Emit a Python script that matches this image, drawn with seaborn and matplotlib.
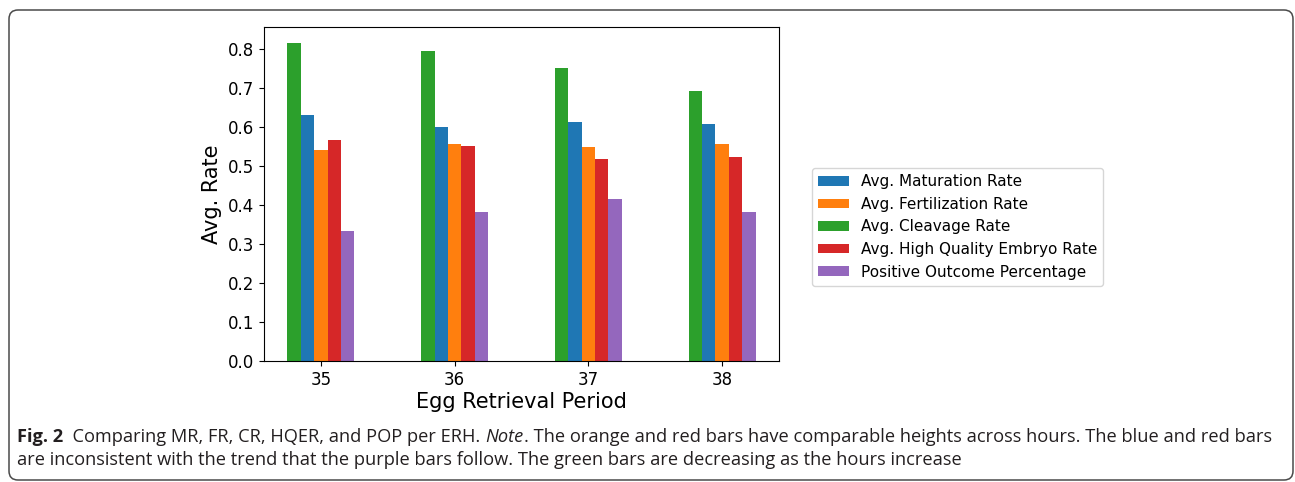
import matplotlib
matplotlib.use("Agg")
import matplotlib.pyplot as plt
from matplotlib.patches import FancyBboxPatch
from matplotlib.transforms import IdentityTransform
import seaborn as sns
import pandas as pd

periods = ["35", "36", "37", "38"]
maturation = [0.630, 0.599, 0.612, 0.607]
fertilization = [0.540, 0.556, 0.548, 0.556]
cleavage = [0.815, 0.795, 0.751, 0.692]
hqer = [0.566, 0.550, 0.517, 0.522]
pop = [0.334, 0.383, 0.414, 0.383]

legend_order = ["Avg. Maturation Rate", "Avg. Fertilization Rate", "Avg. Cleavage Rate",
                "Avg. High Quality Embryo Rate", "Positive Outcome Percentage"]
bar_order = ["Avg. Cleavage Rate", "Avg. Maturation Rate", "Avg. Fertilization Rate",
             "Avg. High Quality Embryo Rate", "Positive Outcome Percentage"]
colors = {"Avg. Maturation Rate": "#1f77b4", "Avg. Fertilization Rate": "#ff7f0e",
          "Avg. Cleavage Rate": "#2ca02c", "Avg. High Quality Embryo Rate": "#d62728",
          "Positive Outcome Percentage": "#9467bd"}

series = dict(zip(legend_order, [maturation, fertilization, cleavage, hqer, pop]))
rows = []
for name, vals in series.items():
    for p, v in zip(periods, vals):
        rows.append({"Period": p, "Rate": v, "Metric": name})
df = pd.DataFrame(rows)

W, H = 1295, 482
fig = plt.figure(figsize=(W / 100, H / 100), dpi=100)
ax = fig.add_axes([264 / W, 1 - 361 / H, (779 - 264) / W, (361 - 27) / H])

sns.barplot(data=df, x="Period", y="Rate", hue="Metric", order=periods,
            hue_order=bar_order, palette=colors, width=0.5, errorbar=None,
            linewidth=0, saturation=1, ax=ax)

ax.set_xlim(-0.425, 3.425)
ax.set_ylim(0, 0.8558)
ax.set_yticks([0.0, 0.1, 0.2, 0.3, 0.4, 0.5, 0.6, 0.7, 0.8])
ax.tick_params(labelsize=12)
ax.set_xlabel("Egg Retrieval Period", fontsize=15, labelpad=2)
ax.set_ylabel("Avg. Rate", fontsize=15)

handles, labels = ax.get_legend_handles_labels()
hmap = dict(zip(labels, handles))
ax.get_legend().remove()
fig.legend([hmap[l] for l in legend_order], legend_order, loc="upper left",
           bbox_to_anchor=(812 / W, 1 - 168 / H), borderaxespad=0, fontsize=11,
           labelspacing=0.5, handlelength=2.0, handleheight=0.6)

# caption frame
box = FancyBboxPatch((9, 2), 1284, 470, boxstyle="round,pad=0,rounding_size=9",
                     transform=IdentityTransform(), facecolor="none",
                     edgecolor="#4a4a4a", linewidth=1.1)
fig.patches.append(box)

cap_family = ["Open Sans", "DejaVu Sans"]
line1 = [("Fig. 2", "bold", "normal"),
         ("  Comparing MR, FR, CR, HQER, and POP per ERH. ", "normal", "normal"),
         ("Note", "normal", "italic"),
         (". The orange and red bars have comparable heights across hours. The blue and red bars",
          "normal", "normal")]
line2 = [("are inconsistent with the trend that the purple bars follow. The green bars are decreasing as the hours increase",
          "normal", "normal")]

renderer = fig.canvas.get_renderer()


def place_line(pieces, x0, y_px, size):
    x = x0
    for txt, weight, style in pieces:
        t = fig.text(x / W, 1 - y_px / H, txt, fontsize=size, family=cap_family,
                     weight=weight, style=style, color="#231f20", va="baseline", ha="left")
        bb = t.get_window_extent(renderer)
        x = bb.x1
    return x


# fit caption size to reference line width
probe = place_line(line1, 17, 442, 10)
width10 = probe - 17
for t in list(fig.texts):
    t.remove()
size = 10 * (1272 - 17) / width10
place_line(line1, 17, 442, size)
place_line(line2, 17, 465, size)

fig.savefig("out.png", dpi=100)
